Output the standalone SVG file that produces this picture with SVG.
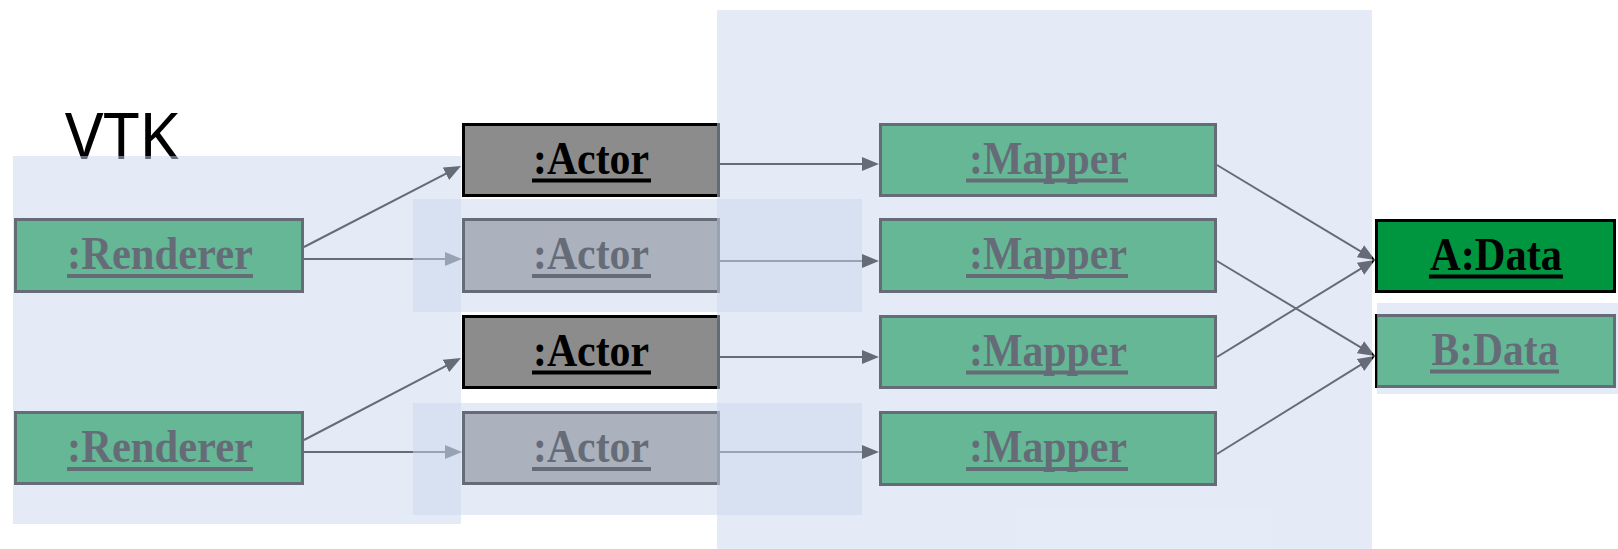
<svg xmlns="http://www.w3.org/2000/svg" width="1618" height="549" viewBox="0 0 1618 549">
<style>
.lbl{font-family:"Liberation Serif","Times New Roman",serif;font-weight:bold;font-size:46px;text-anchor:middle;fill:#000}
.green{fill:#00963f;stroke:#000;stroke-width:3}
.actor{fill:#8c8c8c;stroke:#000;stroke-width:3}
.ul{fill:#000}
.con{stroke:#000;stroke-width:2;fill:none;marker-end:url(#ah)}
.ov{fill:rgb(202,216,238);fill-opacity:0.5}
</style>
<defs>
<marker id="ah" markerWidth="17" markerHeight="14" refX="11" refY="7" orient="auto" markerUnits="userSpaceOnUse">
<path d="M0,0 L17,7 L0,14 z" fill="#000"/>
</marker>
</defs>
<rect width="1618" height="549" fill="#fff"/>
<text x="65" y="159" font-family="'Noto Sans',sans-serif" font-size="64" fill="#000">VTK</text>

<g id="renderer1"><rect class="green" x="15.5" y="219.5" width="287" height="72"/><text class="lbl" x="160" y="269" textLength="186" lengthAdjust="spacingAndGlyphs">:Renderer</text><rect class="ul" x="67" y="274" width="186" height="4"/></g>
<g id="renderer2"><rect class="green" x="15.5" y="412.5" width="287" height="71"/><text class="lbl" x="160" y="462" textLength="186" lengthAdjust="spacingAndGlyphs">:Renderer</text><rect class="ul" x="67" y="467" width="186" height="4"/></g>

<g id="actor1"><rect class="actor" x="463.5" y="124.5" width="255" height="71"/><text class="lbl" x="591" y="174" textLength="116" lengthAdjust="spacingAndGlyphs">:Actor</text><rect class="ul" x="532" y="178.5" width="119" height="4"/></g>
<g id="actor2"><rect class="actor" x="463.5" y="219.5" width="255" height="72"/><text class="lbl" x="591" y="269" textLength="116" lengthAdjust="spacingAndGlyphs">:Actor</text><rect class="ul" x="532" y="274" width="119" height="4"/></g>
<g id="actor3"><rect class="actor" x="463.5" y="316.5" width="255" height="71"/><text class="lbl" x="591" y="366" textLength="116" lengthAdjust="spacingAndGlyphs">:Actor</text><rect class="ul" x="532" y="370.5" width="119" height="4"/></g>
<g id="actor4"><rect class="actor" x="463.5" y="412.5" width="255" height="71"/><text class="lbl" x="591" y="462" textLength="116" lengthAdjust="spacingAndGlyphs">:Actor</text><rect class="ul" x="532" y="467" width="119" height="4"/></g>

<g id="mapper1"><rect class="green" x="880.5" y="124.5" width="335" height="71"/><text class="lbl" x="1048" y="174" textLength="158" lengthAdjust="spacingAndGlyphs">:Mapper</text><rect class="ul" x="966" y="178.5" width="162" height="4"/></g>
<g id="mapper2"><rect class="green" x="880.5" y="219.5" width="335" height="72"/><text class="lbl" x="1048" y="269" textLength="158" lengthAdjust="spacingAndGlyphs">:Mapper</text><rect class="ul" x="966" y="274" width="162" height="4"/></g>
<g id="mapper3"><rect class="green" x="880.5" y="316.5" width="335" height="71"/><text class="lbl" x="1048" y="366" textLength="158" lengthAdjust="spacingAndGlyphs">:Mapper</text><rect class="ul" x="966" y="370.5" width="162" height="4"/></g>
<g id="mapper4"><rect class="green" x="880.5" y="412.5" width="335" height="72"/><text class="lbl" x="1048" y="462" textLength="158" lengthAdjust="spacingAndGlyphs">:Mapper</text><rect class="ul" x="966" y="467" width="162" height="4"/></g>

<g id="adata"><rect class="green" x="1376.5" y="220.5" width="238" height="71"/><text class="lbl" x="1496" y="270" textLength="132" lengthAdjust="spacingAndGlyphs">A:Data</text><rect class="ul" x="1429" y="274.5" width="134" height="4"/></g>
<g id="bdata"><rect class="green" x="1376.5" y="315.5" width="238" height="71"/><text class="lbl" x="1495" y="365" textLength="127" lengthAdjust="spacingAndGlyphs">B:Data</text><rect class="ul" x="1430" y="369.5" width="129" height="4"/></g>

<g id="connectors">
<line class="con" x1="304" y1="247" x2="455.7" y2="168.7"/>
<line class="con" x1="304" y1="259" x2="456" y2="259"/>
<line class="con" x1="304" y1="440" x2="455.7" y2="360.8"/>
<line class="con" x1="304" y1="452" x2="456" y2="452"/>
<line class="con" x1="720" y1="164" x2="873" y2="164"/>
<line class="con" x1="720" y1="261" x2="873" y2="261"/>
<line class="con" x1="720" y1="357" x2="873" y2="357"/>
<line class="con" x1="720" y1="452" x2="873" y2="452"/>
<line class="con" x1="1217" y1="165" x2="1369.9" y2="256.9"/>
<line class="con" x1="1217" y1="261" x2="1369.9" y2="352.9"/>
<line class="con" x1="1217" y1="357" x2="1369.9" y2="263.1"/>
<line class="con" x1="1217" y1="454" x2="1369.9" y2="359.2"/>
</g>

<g id="overlays">
<rect class="ov" x="13" y="156" width="448" height="368"/>
<rect class="ov" x="717" y="10" width="655" height="539"/>
<rect class="ov" x="413" y="199" width="449" height="113"/>
<rect class="ov" x="413" y="403" width="449" height="112"/>
<rect class="ov" x="1377" y="303" width="241" height="91"/>
</g>
</svg>
